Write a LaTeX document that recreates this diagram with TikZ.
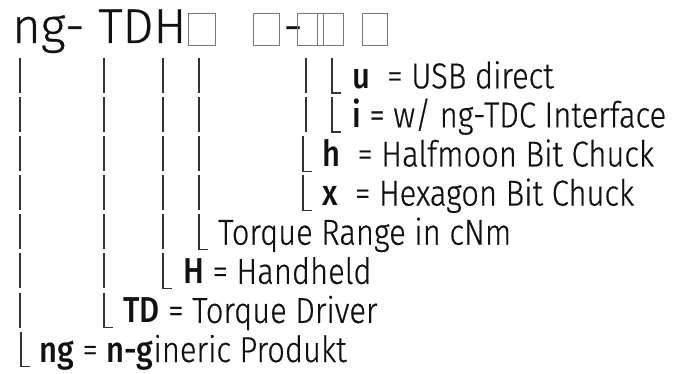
\documentclass[tikz,border=0pt]{standalone}
\usepackage{fontspec}
\setmainfont{Fira Sans}[UprightFont=* Light, UprightFeatures={FakeBold=0.5}, BoldFont=* Medium, FakeStretch=0.86]
\newfontfamily\titlefont{Fira Sans}[UprightFont=* Light, UprightFeatures={FakeBold=0.5}]
\definecolor{txt}{HTML}{111111}
\definecolor{barc}{HTML}{333333}
\definecolor{tofuc}{HTML}{777777}
\begin{document}
\begin{tikzpicture}[x=1pt,y=-1pt,
  bar/.style={draw=barc, line width=1.2pt},
  lbl/.style={anchor=base west, inner sep=0pt, font=\fontsize{36}{36}\selectfont, text=txt},
  ttl/.style={anchor=base west, inner sep=0pt, font=\titlefont\fontsize{49}{49}\selectfont, text=txt},
  tofu/.style={draw=tofuc, line width=0.9pt}]
\useasboundingbox (0,0) rectangle (675,374);
% title
\node[ttl] (title) at (12,43) {ng- TDH};
\draw[tofu] (188,13) rectangle (215,45);
\draw[tofu] (253,13) rectangle (279,45);
\node[ttl] (dash) at (283,43) {-};
\draw[tofu] (297,13) rectangle (323,45);
\draw[tofu] (317,13) rectangle (343,45);
\draw[tofu] (362,13) rectangle (387,45);
% rows: centre y = 75.5 + 39.1*(k-1)
\foreach \k/\bars/\cx/\tx/\lab in {
  1/{20,104,163,199,306}/332/352/{\textbf{u}\ \ = USB direct},
  2/{20,104,163,199,306}/332/352/{\textbf{i} = w/ ng-TDC Interface},
  3/{20,104,163,199}/303/322/{\textbf{h}\ \ = Halfmoon Bit Chuck},
  4/{20,104,163,199}/303/322/{\textbf{x}\ \ = Hexagon Bit Chuck},
  5/{20,104,163}/199/218/{Torque Range in cNm},
  6/{20,104}/163/183/{\textbf{H} = Handheld},
  7/{20}/104/123/{\textbf{TD} = Torque Driver}}{
  \pgfmathsetmacro\cy{75.5+39.1*(\k-1)}
  \foreach \bx in \bars { \draw[bar] (\bx,\cy-17.5) -- (\bx,\cy+17.5); }
  \draw[bar] (\cx,\cy-17.5) -- (\cx,\cy+17.5) -- (\cx+9,\cy+17.5);
  \node[lbl] (row\k) at (\tx,\cy+12.8) {\lab};
}
\pgfmathsetmacro\cy{75.5+39.1*7}
\draw[bar] (21,\cy-17.5) -- (21,\cy+17.5) -- (30,\cy+17.5);
\node[lbl] (row8) at (39,\cy+12.8) {\textbf{ng} = \textbf{n-g}ineric Produkt};
\end{tikzpicture}
\end{document}
